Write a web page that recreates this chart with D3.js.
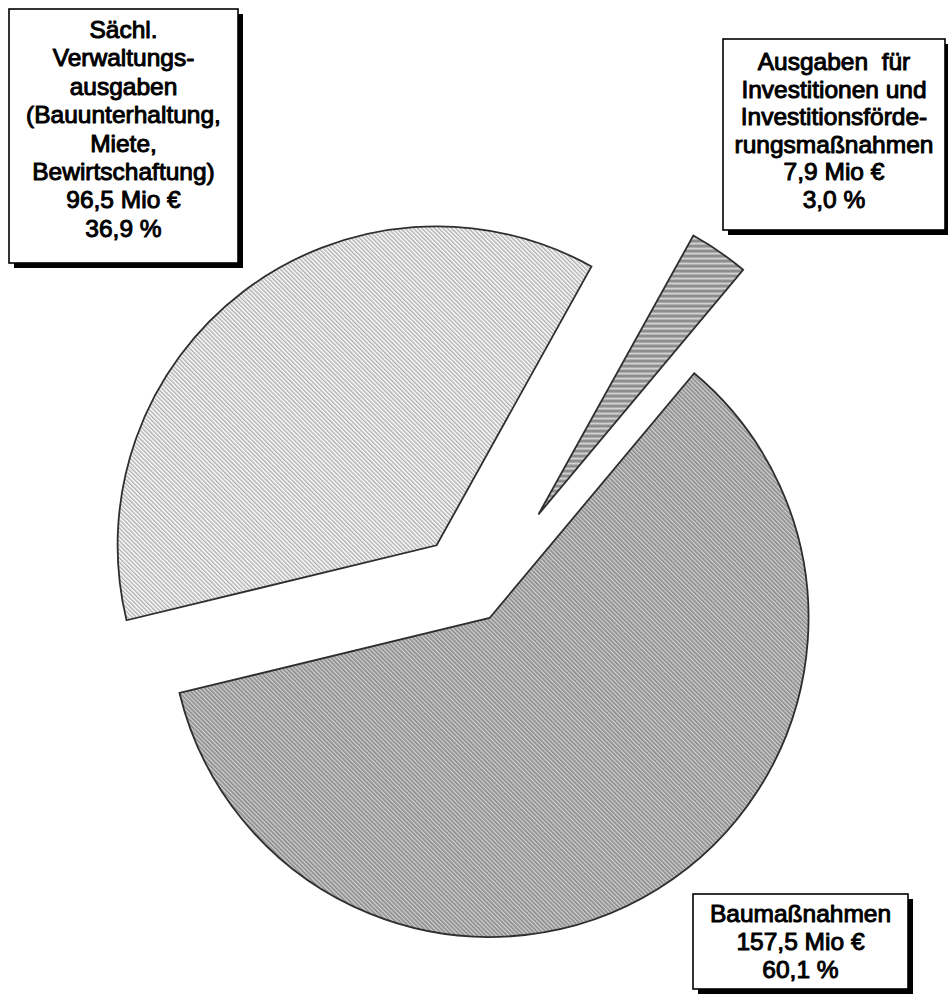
<!DOCTYPE html>
<html>
<head>
<meta charset="utf-8">
<script src="https://cdn.jsdelivr.net/npm/d3@7"></script>
<style>
  html, body { margin: 0; padding: 0; background: #fff; }
  svg { display: block; font-family: "Liberation Sans", Arial, sans-serif; }
</style>
</head>
<body>
<svg id="chart"></svg>
<script>
// data, clockwise from the small slice
const categories = ['Investitionen', 'Baumaßnahmen', 'Sächl. Verwaltungsausgaben']
const valuesMio = [7.9, 157.5, 96.5]
const shares = [3.0, 60.1, 36.9]
const labelText = [
  ['Ausgaben  für', 'Investitionen und', 'Investitionsförde-', 'rungsmaßnahmen'],
  ['Baumaßnahmen'],
  ['Sächl.', 'Verwaltungs-', 'ausgaben', '(Bauunterhaltung,', 'Miete,', 'Bewirtschaftung)']
]

const width = 948
const height = 997
const cx = 479, cy = 601
const radius = 319
const explode = [105, 20, 70]
const fills = ['url(#hatchSmall)', 'url(#hatchBig)', 'url(#hatchLight)']

// label boxes (position only)
const boxes = [
  { x: 723, y: 39, w: 222, h: 191, first: 31, lh: 27.6 },
  { x: 693, y: 894, w: 215, h: 95, first: 28, lh: 28.2 },
  { x: 9, y: 9, w: 229, h: 254, first: 29, lh: 28.4 }
]

const fmt = v => d3.format('.1f')(v).replace('.', ',')

const svg = d3.select('#chart')
  .attr('width', width)
  .attr('height', height)

const defs = svg.append('defs')

// light diagonal hatch
let p = defs.append('pattern').attr('id', 'hatchLight')
  .attr('patternUnits', 'userSpaceOnUse').attr('width', 3).attr('height', 3)
  .attr('patternTransform', 'rotate(-45)')
p.append('rect').attr('width', 3).attr('height', 3).attr('fill', '#fff')
p.append('rect').attr('width', 1.5).attr('height', 3).attr('fill', '#b0b0b0')

// darker diagonal hatch
p = defs.append('pattern').attr('id', 'hatchBig')
  .attr('patternUnits', 'userSpaceOnUse').attr('width', 3).attr('height', 3)
  .attr('patternTransform', 'rotate(-45)')
p.append('rect').attr('width', 3).attr('height', 3).attr('fill', '#d2d2d2')
p.append('rect').attr('width', 1.7).attr('height', 3).attr('fill', '#8c8c8c')

// horizontal hatch
p = defs.append('pattern').attr('id', 'hatchSmall')
  .attr('patternUnits', 'userSpaceOnUse').attr('width', 5).attr('height', 5)
p.append('rect').attr('width', 5).attr('height', 5).attr('fill', '#8e8e8e')
p.append('rect').attr('y', 3.5).attr('width', 5).attr('height', 1.3).attr('fill', '#f4f4f4')

const startAngle = 29.05 * Math.PI / 180
const pie = d3.pie()
  .sort(null)
  .startAngle(startAngle)
  .endAngle(startAngle + 2 * Math.PI)
  .value(d => d)

const arcs = pie(valuesMio)
const arcGen = d3.arc().innerRadius(0).outerRadius(radius)

const g = svg.append('g').attr('transform', `translate(${cx}, ${cy})`)

g.selectAll('path')
  .data(arcs)
  .enter()
  .append('path')
  .attr('d', arcGen)
  .attr('transform', (d, i) => {
    let mid = (d.startAngle + d.endAngle) / 2
    return `translate(${Math.sin(mid) * explode[i]}, ${-Math.cos(mid) * explode[i]})`
  })
  .attr('fill', (d, i) => fills[i])
  .attr('stroke', '#2e2e2e')
  .attr('stroke-width', 1.8)
  .attr('stroke-linejoin', 'miter')

// labels
const labels = svg.selectAll('g.label')
  .data(categories)
  .enter()
  .append('g')
  .attr('class', 'label')
  .attr('transform', (d, i) => `translate(${boxes[i].x}, ${boxes[i].y})`)

labels.append('rect')
  .attr('x', 5).attr('y', 5)
  .attr('width', (d, i) => boxes[i].w)
  .attr('height', (d, i) => boxes[i].h)
  .attr('fill', '#000')

labels.append('rect')
  .attr('width', (d, i) => boxes[i].w)
  .attr('height', (d, i) => boxes[i].h)
  .attr('fill', '#fff')
  .attr('stroke', '#000')
  .attr('stroke-width', 1.6)

labels.each(function (d, i) {
  let lines = labelText[i].concat([fmt(valuesMio[i]) + ' Mio €', fmt(shares[i]) + ' %'])
  d3.select(this).selectAll('text')
    .data(lines)
    .enter()
    .append('text')
    .attr('x', boxes[i].w / 2)
    .attr('y', (t, j) => boxes[i].first + j * boxes[i].lh)
    .attr('text-anchor', 'middle')
    .style('white-space', 'pre')
    .style('font-size', '24.5px')
    .style('fill', '#000')
    .style('stroke', '#000')
    .style('stroke-width', 1.0)
    .style('stroke-linejoin', 'round')
    .text(t => t)
})
</script>
</body>
</html>
